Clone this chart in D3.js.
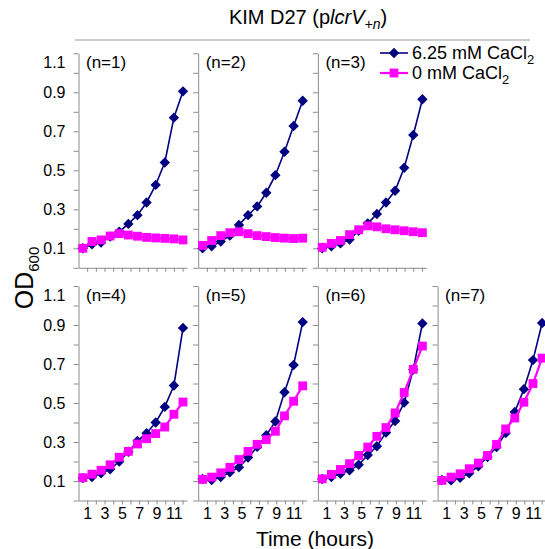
<!DOCTYPE html>
<html>
<head>
<meta charset="utf-8">
<script src="https://cdn.jsdelivr.net/npm/d3@7"></script>
<style>
  body { margin: 0; background: #fff; }
  text { font-family: Arial, "Liberation Sans", sans-serif; fill: #000; }
</style>
</head>
<body>
<div id="chart"></div>
<script>
// sampling times (hours) of every growth curve
const times = [0.5, 1.55, 2.6, 3.65, 4.7, 5.75, 6.8, 7.85, 8.9, 9.95, 11.0, 12.05];

const panelLabels = ["(n=1)", "(n=2)", "(n=3)", "(n=4)", "(n=5)", "(n=6)", "(n=7)"];

// OD600 with 6.25 mM CaCl2, one row per panel
const withCalcium = [
    [0.10, 0.12, 0.13, 0.16, 0.185, 0.225, 0.27, 0.335, 0.425, 0.54, 0.77, 0.905],
    [0.10, 0.11, 0.135, 0.165, 0.22, 0.27, 0.315, 0.385, 0.475, 0.595, 0.727, 0.857],
    [0.10, 0.11, 0.125, 0.145, 0.19, 0.228, 0.276, 0.335, 0.395, 0.513, 0.681, 0.864],
    [0.115, 0.12, 0.14, 0.16, 0.2, 0.25, 0.305, 0.345, 0.40, 0.48, 0.59, 0.885],
    [0.11, 0.105, 0.12, 0.145, 0.17, 0.22, 0.275, 0.335, 0.405, 0.555, 0.695, 0.915],
    [0.11, 0.12, 0.137, 0.155, 0.183, 0.233, 0.278, 0.348, 0.408, 0.502, 0.672, 0.908],
    [0.105, 0.103, 0.117, 0.14, 0.176, 0.223, 0.274, 0.346, 0.454, 0.571, 0.72, 0.91]
];

// OD600 with 0 mM CaCl2
const noCalcium = [
    [0.10, 0.135, 0.143, 0.163, 0.175, 0.168, 0.162, 0.156, 0.153, 0.151, 0.148, 0.143],
    [0.115, 0.14, 0.165, 0.18, 0.185, 0.175, 0.165, 0.16, 0.155, 0.152, 0.15, 0.152],
    [0.105, 0.125, 0.14, 0.17, 0.195, 0.215, 0.21, 0.2, 0.195, 0.19, 0.185, 0.18],
    [0.117, 0.135, 0.155, 0.183, 0.222, 0.252, 0.29, 0.317, 0.343, 0.377, 0.442, 0.505],
    [0.108, 0.12, 0.142, 0.17, 0.21, 0.252, 0.288, 0.312, 0.355, 0.434, 0.509, 0.588],
    [0.111, 0.134, 0.159, 0.189, 0.231, 0.274, 0.329, 0.374, 0.449, 0.554, 0.673, 0.792],
    [0.103, 0.12, 0.137, 0.163, 0.192, 0.231, 0.288, 0.367, 0.423, 0.504, 0.6, 0.73]
];

const yTicks = [0, 0.1, 0.2, 0.3, 0.4, 0.5, 0.6, 0.7, 0.8, 0.9, 1.0, 1.1];
const yTickLabels = [0.1, 0.3, 0.5, 0.7, 0.9, 1.1];
const xTicks = [1, 2, 3, 4, 5, 6, 7, 8, 9, 10, 11, 12];
const xTickLabels = [1, 3, 5, 7, 9, 11];

const legendItems = ["6.25 mM CaCl", "0 mM CaCl"];

const W = 545, H = 549;
const navy = "#000080", magenta = "#ff00ff", axisGrey = "#8c8c8c";
const diamondSize = 54, squareSize = 78;

const left0 = 78.5, panelStep = 119.7;
const rowTops = [53.3, 286];
const panelH = 214.5, axisW = 108.4;

const svg = d3.select("#chart").append("svg")
    .attr("width", W)
    .attr("height", H);

const x = d3.scaleLinear().domain([0, 12.5]).range([0, axisW]);
const y = d3.scaleLinear().domain([0, 1.1]).range([panelH, 0]);

const line = d3.line()
    .x((d, i) => x(times[i]))
    .y(d => y(d));

panelLabels.forEach((label, p) => {
    const row = p < 3 ? 0 : 1;
    const col = p < 3 ? p : p - 3;
    const g = svg.append("g")
        .attr("transform", `translate(${left0 + col * panelStep},${rowTops[row]})`);

    // y axis
    const yAxis = g.append("g")
        .call(d3.axisLeft(y)
            .tickValues(yTicks)
            .tickSize(5)
            .tickSizeOuter(0)
            .tickPadding(8)
            .tickFormat(d => (col === 0 && yTickLabels.some(v => Math.abs(v - d) < 1e-9)) ? d3.format(".1f")(d) : ""));
    yAxis.select(".domain").attr("stroke", axisGrey);
    yAxis.selectAll(".tick line").attr("stroke", axisGrey);
    yAxis.selectAll(".tick text")
        .style("font-size", "16px")
        .attr("fill", "#000")
        .attr("dy", d => Math.abs(d - 1.1) < 1e-9 ? "0.9em" : "0.32em");

    // x axis
    const xAxis = g.append("g")
        .attr("transform", `translate(0,${panelH})`)
        .call(d3.axisBottom(x)
            .tickValues(xTicks)
            .tickSize(4)
            .tickSizeOuter(0)
            .tickPadding(3)
            .tickFormat(d => (row === 1 && xTickLabels.includes(d)) ? d : ""));
    xAxis.select(".domain").attr("stroke", axisGrey);
    xAxis.selectAll(".tick line").attr("stroke", axisGrey);
    xAxis.selectAll(".tick text")
        .style("font-size", "16px")
        .attr("fill", "#000");

    g.append("text")
        .attr("x", 7.5)
        .attr("y", 15)
        .style("font-size", "17px")
        .text(label);

    // 6.25 mM series (drawn first, under the squares)
    g.append("path")
        .datum(withCalcium[p])
        .attr("fill", "none")
        .attr("stroke", navy)
        .attr("stroke-width", 1.6)
        .attr("d", line);
    g.selectAll(".diamond")
        .data(withCalcium[p])
        .enter().append("path")
        .attr("class", "diamond")
        .attr("fill", navy)
        .attr("d", d3.symbol(d3.symbolSquare).size(diamondSize))
        .attr("transform", (d, i) => `translate(${x(times[i])},${y(d)}) rotate(45)`);

    // 0 mM series
    g.append("path")
        .datum(noCalcium[p])
        .attr("fill", "none")
        .attr("stroke", magenta)
        .attr("stroke-width", 2.2)
        .attr("d", line);
    g.selectAll(".square")
        .data(noCalcium[p])
        .enter().append("path")
        .attr("class", "square")
        .attr("fill", magenta)
        .attr("d", d3.symbol(d3.symbolSquare).size(squareSize))
        .attr("transform", (d, i) => `translate(${x(times[i])},${y(d)})`);
});

// title and rule
const title = svg.append("text")
    .attr("x", 308)
    .attr("y", 24)
    .attr("text-anchor", "middle")
    .style("font-size", "20px");
title.append("tspan").text("KIM D27 (p");
title.append("tspan").style("font-style", "italic").text("lcrV");
title.append("tspan").style("font-style", "italic").style("font-size", "14px").attr("dy", 5).text("+n");
title.append("tspan").attr("dy", -5).text(")");

svg.append("line")
    .attr("x1", 75).attr("x2", 530)
    .attr("y1", 40).attr("y2", 40)
    .attr("stroke", "#999")
    .attr("stroke-width", 1);

// axis titles
const yTitle = svg.append("text")
    .attr("transform", "translate(33,278) rotate(-90)")
    .attr("text-anchor", "middle")
    .style("font-size", "25px");
yTitle.append("tspan").text("OD");
yTitle.append("tspan").style("font-size", "15px").attr("dy", 6).text("600");

svg.append("text")
    .attr("x", 315)
    .attr("y", 546)
    .attr("text-anchor", "middle")
    .style("font-size", "21px")
    .text("Time (hours)");

// legend
const legend = svg.append("g").attr("transform", "translate(380,53)");
legendItems.forEach((name, i) => {
    const item = legend.append("g").attr("transform", `translate(0,${i * 20})`);
    item.append("line")
        .attr("x1", 0).attr("x2", 28)
        .attr("stroke", i === 0 ? navy : magenta)
        .attr("stroke-width", i === 0 ? 1.6 : 2.2);
    item.append("path")
        .attr("fill", i === 0 ? navy : magenta)
        .attr("d", d3.symbol(d3.symbolSquare).size(i === 0 ? diamondSize : squareSize))
        .attr("transform", i === 0 ? "translate(14,0) rotate(45)" : "translate(14,0)");
    const t = item.append("text")
        .attr("x", 32)
        .attr("y", 6)
        .style("font-size", "18px");
    t.append("tspan").text(name);
    t.append("tspan").style("font-size", "13px").attr("dy", 5).text("2");
});
</script>
</body>
</html>
